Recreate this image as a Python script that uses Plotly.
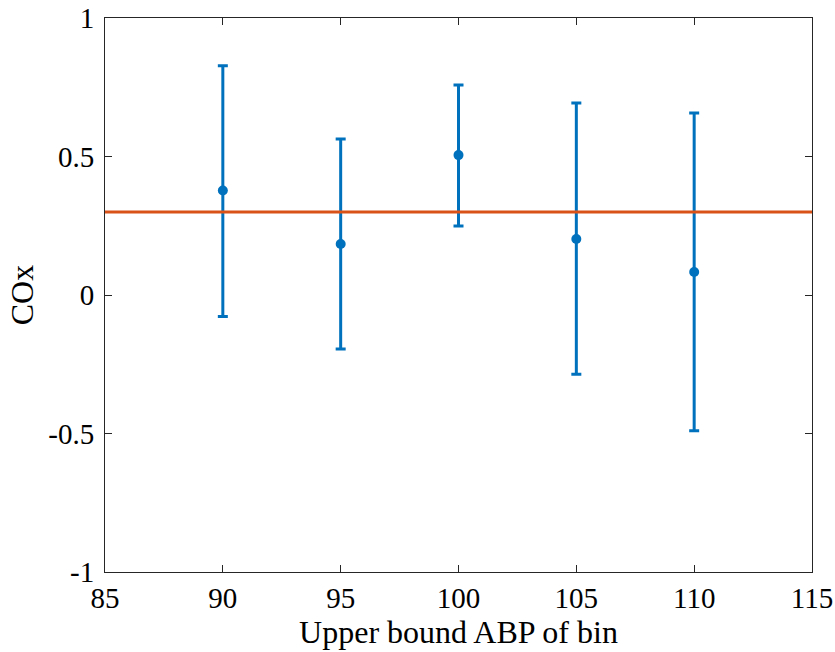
import plotly.graph_objects as go

# Data
abp_upper_bound = [90, 95, 100, 105, 110]
cox_mean = [0.377, 0.184, 0.505, 0.202, 0.083]
cox_upper = [0.828, 0.563, 0.758, 0.693, 0.657]
cox_lower = [-0.078, -0.195, 0.249, -0.286, -0.490]
reference_cox = 0.3

x_ticks = [85, 90, 95, 100, 105, 110, 115]
y_ticks = [-1, -0.5, 0, 0.5, 1]
y_tick_text = ["-1", "-0.5", "0", "0.5", "1"]

err_plus = [u - m for u, m in zip(cox_upper, cox_mean)]
err_minus = [m - l for m, l in zip(cox_mean, cox_lower)]

BLUE = "#0072BD"
ORANGE = "#D95319"
AX = "#262626"
FONT = "Liberation Serif"

fig = go.Figure()
fig.add_trace(go.Scatter(
    x=abp_upper_bound, y=cox_mean, mode="markers",
    marker=dict(color=BLUE, size=10),
    error_y=dict(type="data", symmetric=False, array=err_plus, arrayminus=err_minus,
                 color=BLUE, thickness=3, width=5),
    showlegend=False,
))
fig.add_hline(y=reference_cox, line=dict(color=ORANGE, width=3), layer="above")

fig.update_layout(
    width=835, height=652,
    margin=dict(l=105, r=23, t=18, b=80),
    plot_bgcolor="white", paper_bgcolor="white",
    font=dict(family=FONT, size=29, color="#000000"),
    xaxis=dict(
        range=[85, 115], tickvals=x_ticks, ticktext=[str(v) for v in x_ticks],
        showgrid=False, zeroline=False, showline=True, linecolor=AX, linewidth=1,
        mirror="ticks", ticks="inside", ticklen=7, tickcolor=AX, automargin=False,
        title=dict(text="Upper bound ABP of bin", standoff=6,
                   font=dict(family=FONT, size=32)),
        tickfont=dict(family=FONT, size=29),
    ),
    yaxis=dict(
        range=[-1, 1], tickvals=y_ticks, ticktext=y_tick_text,
        showgrid=False, zeroline=False, showline=True, linecolor=AX, linewidth=1,
        mirror="ticks", ticks="inside", ticklen=7, tickcolor=AX, automargin=False,
        ticklabelstandoff=4,
        title=dict(text="COx", standoff=5, font=dict(family=FONT, size=32)),
        tickfont=dict(family=FONT, size=29),
    ),
)

fig.write_html("out.html")
